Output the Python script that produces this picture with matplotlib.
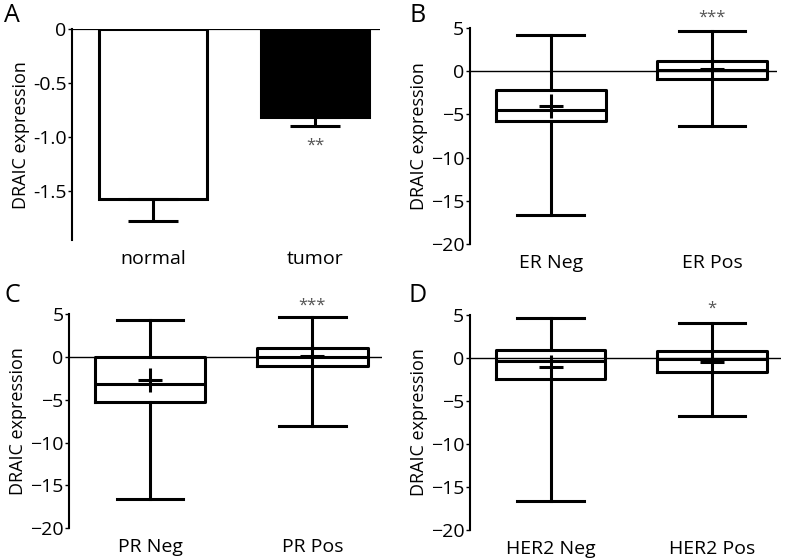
import numpy as np
import matplotlib.pyplot as plt

plt.rcParams['font.family'] = ['Open Sans', 'DejaVu Sans']

# panel A: bar chart, mean and lower error
bar_names = ['normal', 'tumor']
bar_means = [-1.58, -0.82]
bar_err = [0.20, 0.08]

# panels B-D: box plots (q1, median, q3, whisker low, whisker high, mean)
b_names = ['ER Neg', 'ER Pos']
b_q1 = [-5.7, -0.9]
b_med = [-4.5, 0.2]
b_q3 = [-2.2, 1.2]
b_lo = [-16.6, -6.3]
b_hi = [4.2, 4.7]
b_mean = [-4.0, 0.3]

c_names = ['PR Neg', 'PR Pos']
c_q1 = [-5.3, -1.1]
c_med = [-3.2, 0.0]
c_q3 = [0.0, 1.1]
c_lo = [-16.6, -8.1]
c_hi = [4.3, 4.7]
c_mean = [-2.7, 0.1]

d_names = ['HER2 Neg', 'HER2 Pos']
d_q1 = [-2.5, -1.6]
d_med = [-0.3, -0.15]
d_q3 = [0.9, 0.8]
d_lo = [-16.6, -6.7]
d_hi = [4.6, 4.1]
d_mean = [-1.1, -0.45]

fig = plt.figure(figsize=(7.87, 5.6), dpi=100)

pos = [1, 2]
fs = 14

# ---- panel A ----
ax = fig.add_axes([0.0915, 0.571, 0.391, 0.377])
ax.bar(pos, bar_means, width=0.67, color=['white', 'black'], edgecolor='black', linewidth=2.2)
ax.errorbar(pos, bar_means, yerr=[bar_err, [0, 0]], fmt='none', ecolor='black',
            elinewidth=2.2, capsize=18, capthick=2.2)
ax.set_xlim(0.5, 2.4)
ax.set_ylim(-1.96, 0)
ax.axhline(0, color='black', lw=1.6)
for s in ['top', 'right', 'bottom']:
    ax.spines[s].set_visible(False)
ax.spines['left'].set_linewidth(1.5)
ax.set_yticks([0, -0.5, -1.0, -1.5])
ax.set_yticklabels(['0', '-0.5', '-1.0', '-1.5'])
ax.set_xticks(pos)
ax.set_xticklabels(bar_names)
ax.tick_params(axis='x', length=0, pad=7, labelsize=fs)
ax.tick_params(axis='y', length=3, width=1, pad=1, labelsize=fs)
ax.set_ylabel('DRAIC expression', fontsize=13, labelpad=2)
ax.text(2, -1.08, '**', ha='center', va='center', fontsize=12, color='#555555')


def boxpanel(rect, names, q1, med, q3, lo, hi, mean, star, star_y, xright):
    ax = fig.add_axes(rect)
    stats = []
    for i in range(2):
        stats.append(dict(med=med[i], q1=q1[i], q3=q3[i], whislo=lo[i],
                          whishi=hi[i], mean=mean[i], fliers=[]))
    lp = dict(color='black', linewidth=2.2)
    ax.bxp(stats, positions=pos, widths=0.68, capwidths=0.41, showmeans=True,
           boxprops=lp, whiskerprops=lp, capprops=lp, medianprops=lp,
           meanprops=dict(marker='+', markersize=17, markeredgewidth=2.2,
                          markeredgecolor='black'))
    ax.set_xlim(0.5, xright)
    ax.set_ylim(-20, 5)
    ax.axhline(0, color='black', lw=1.0, zorder=0.5)
    for s in ['top', 'right', 'bottom']:
        ax.spines[s].set_visible(False)
    ax.spines['left'].set_linewidth(1.5)
    ax.set_yticks([5, 0, -5, -10, -15, -20])
    ax.set_xticks(pos)
    ax.set_xticklabels(names)
    ax.tick_params(axis='x', length=0, pad=7, labelsize=fs)
    ax.tick_params(axis='y', length=3, width=1, pad=1, labelsize=fs)
    ax.set_ylabel('DRAIC expression', fontsize=13, labelpad=2)
    ax.text(2, star_y, star, ha='center', va='center', fontsize=12,
            color='#555555', clip_on=False)
    return ax


boxpanel([0.597, 0.564, 0.390, 0.386], b_names, b_q1, b_med, b_q3, b_lo, b_hi,
         b_mean, '***', 6.2, 2.4)
boxpanel([0.0877, 0.057, 0.398, 0.382], c_names, c_q1, c_med, c_q3, c_lo, c_hi,
         c_mean, '***', 6.0, 2.43)
boxpanel([0.597, 0.0536, 0.396, 0.384], d_names, d_q1, d_med, d_q3, d_lo, d_hi,
         d_mean, '*', 5.7, 2.43)

for lbl, x, y in [('A', 12, 15), ('B', 418, 15), ('C', 12, 295), ('D', 418, 295)]:
    fig.text(x / 787, 1 - y / 560, lbl, fontsize=18, ha='center', va='center')

fig.savefig('out.png', dpi=100)
